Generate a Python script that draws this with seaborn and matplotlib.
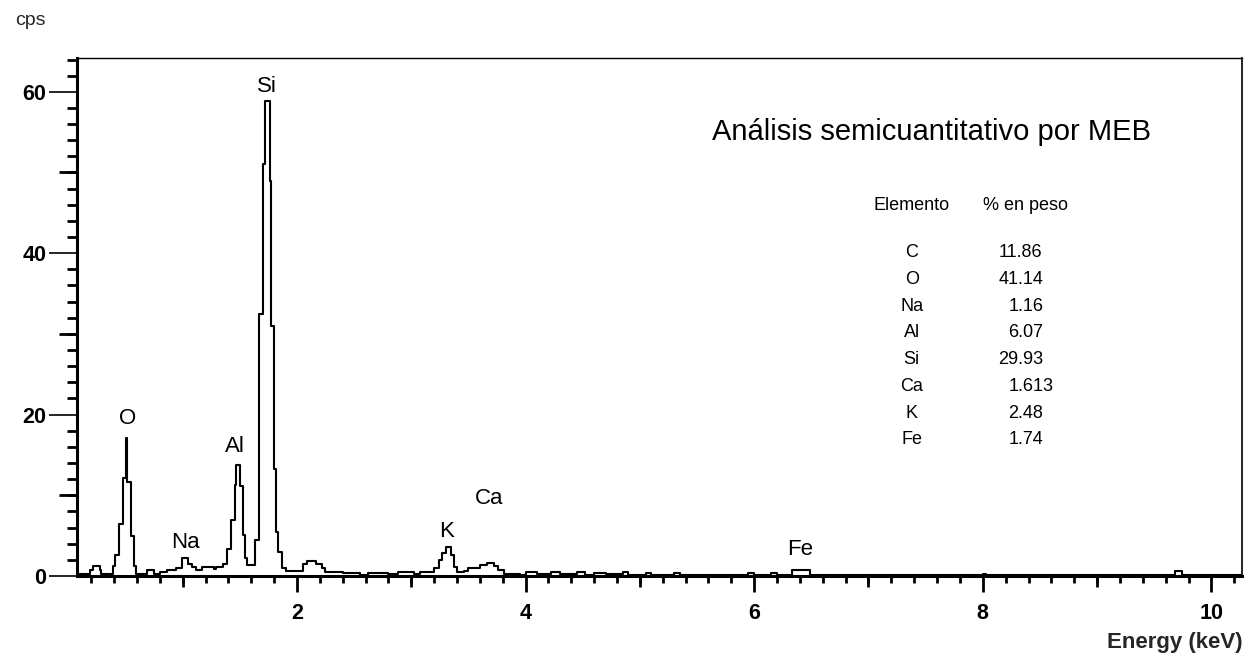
import matplotlib
matplotlib.use("Agg")
import matplotlib.pyplot as plt
import numpy as np
import pandas as pd
import seaborn as sns
from matplotlib.ticker import MultipleLocator

# ---- spectrum data (step starts in keV, counts per second) ----
energy = [0.07, 0.19, 0.215, 0.275, 0.29, 0.39, 0.405, 0.44, 0.475, 0.50, 0.515, 0.55, 0.57, 0.59,
          0.685, 0.745, 0.77, 0.80, 0.86, 0.945, 0.99, 1.05, 1.08, 1.12, 1.165, 1.27, 1.29, 1.355,
          1.385, 1.425, 1.455, 1.47, 1.50, 1.525, 1.545, 1.565, 1.635, 1.67, 1.705, 1.72, 1.76,
          1.77, 1.795, 1.815, 1.835, 1.865, 1.905, 2.055, 2.085, 2.17, 2.215, 2.245, 2.40, 2.55,
          2.62, 2.80, 2.88, 3.02, 3.08, 3.20, 3.24, 3.27, 3.30, 3.35, 3.375, 3.40, 3.46, 3.50,
          3.60, 3.66, 3.72, 3.76, 3.81, 3.95, 4.00, 4.10, 4.22, 4.30, 4.45, 4.52, 4.60, 4.70,
          4.85, 4.90, 5.05, 5.10, 5.30, 5.35, 5.95, 6.00, 6.15, 6.20, 6.33, 6.49, 8.00, 8.03,
          9.68, 9.74, 10.27]
counts = [0.3, 0.7, 1.2, 0.7, 0.3, 1.2, 2.6, 6.5, 12.1, 17.1, 11.7, 5.0, 1.2, 0.3,
          0.7, 0.3, 0.2, 0.5, 0.75, 0.95, 2.2, 1.5, 1.1, 0.75, 1.15, 0.9, 1.15, 1.5,
          3.4, 6.9, 11.3, 13.8, 11.1, 5.1, 2.2, 1.3, 4.5, 32.5, 51.0, 58.8, 49.0,
          31.0, 13.3, 5.5, 3.0, 1.0, 0.6, 1.5, 1.9, 1.5, 0.95, 0.55, 0.35, 0.15,
          0.4, 0.2, 0.45, 0.25, 0.5, 0.95, 2.0, 2.8, 3.55, 2.6, 1.15, 0.55, 0.65, 0.95,
          1.35, 1.65, 1.25, 0.75, 0.3, 0.15, 0.45, 0.2, 0.5, 0.2, 0.45, 0.15, 0.4, 0.2,
          0.45, 0.15, 0.4, 0.15, 0.35, 0.1, 0.35, 0.1, 0.35, 0.1, 0.8, 0.08, 0.3, 0.08,
          0.6, 0.08, 0.08]

# ---- peak labels ----
peak_names = ["O", "Na", "Al", "Si", "K", "Ca", "Fe"]
peak_x = [0.52, 1.02, 1.455, 1.74, 3.31, 3.68, 6.40]
peak_y = [19.5, 4.2, 16.0, 60.7, 5.5, 9.6, 3.3]

# ---- composition table ----
title_text = "Análisis semicuantitativo por MEB"
table_header = ["Elemento", "% en peso"]
table_elements = ["C", "O", "Na", "Al", "Si", "Ca", "K", "Fe"]
table_weights = ["11.86", "41.14", "1.16", "6.07", "29.93", "1.613", "2.48", "1.74"]

x_major_ticks = [2, 4, 6, 8, 10]
x_mid_ticks = [1, 3, 5, 7, 9]
y_major_ticks = [0, 20, 40, 60]
y_mid_ticks = [10, 30, 50]

sns.set_style("ticks", {"axes.edgecolor": "black", "xtick.color": "black",
                        "ytick.color": "black", "text.color": "black"})
plt.rcParams["font.family"] = ["Liberation Sans", "DejaVu Sans"]

df = pd.DataFrame({"energy": energy, "cps": counts})

fig = plt.figure(figsize=(12.45, 6.56), dpi=100)
ax = fig.add_axes([0.0616, 0.1220, 0.9362, 0.7891])

sns.lineplot(data=df, x="energy", y="cps", drawstyle="steps-post", color="black",
             linewidth=1.5, estimator=None, sort=False, ax=ax, legend=False)

ax.set_xlim(0.073, 10.27)
ax.set_ylim(0, 64.15)

ax.set_xticks(x_major_ticks)
ax.set_xticklabels([str(t) for t in x_major_ticks])
ax.xaxis.set_minor_locator(MultipleLocator(0.2))
ax.set_yticks(y_major_ticks)
ax.set_yticklabels([str(t) for t in y_major_ticks])
ax.yaxis.set_minor_locator(MultipleLocator(2))

ax.tick_params(axis="x", which="major", direction="out", length=11.5, width=2,
               pad=8, labelsize=15.5)
ax.tick_params(axis="x", which="minor", direction="out", length=5, width=2)
ax.tick_params(axis="y", which="major", direction="out", length=20, width=1.2,
               pad=2, labelsize=15.5)
ax.tick_params(axis="y", which="minor", direction="out", length=7, width=2)
for lab in ax.get_xticklabels() + ax.get_yticklabels():
    lab.set_fontweight("bold")

secx = ax.secondary_xaxis("bottom")
secx.set_xticks(x_mid_ticks)
secx.tick_params(axis="x", direction="out", length=8, width=2, labelbottom=False)
secx.spines["bottom"].set_visible(False)

secy = ax.secondary_yaxis("left")
secy.set_yticks(y_mid_ticks)
secy.tick_params(axis="y", direction="out", length=13, width=2, labelleft=False)
secy.spines["left"].set_visible(False)

ax.spines["left"].set_linewidth(2.2)
ax.spines["bottom"].set_linewidth(2.2)
ax.spines["top"].set_linewidth(1.0)
ax.spines["right"].set_linewidth(1.2)

ax.set_xlabel("Energy (keV)", loc="right", fontsize=16, fontweight="bold", labelpad=6)
ax.set_ylabel("cps", rotation=0, fontsize=14, ha="center", va="center")
ax.yaxis.set_label_coords(-0.040, 1.074)

for name, px, py in zip(peak_names, peak_x, peak_y):
    ax.text(px, py, name, ha="center", va="center", fontsize=16)

ax.text(0.5448, 0.8582, title_text, transform=ax.transAxes, ha="left",
        va="center", fontsize=21)
ax.text(0.7164, 0.7166, table_header[0], transform=ax.transAxes, ha="center",
        va="center", fontsize=13)
ax.text(0.8143, 0.7166, table_header[1], transform=ax.transAxes, ha="center",
        va="center", fontsize=13)
for i, (el, wt) in enumerate(zip(table_elements, table_weights)):
    yy = 0.6245 - i * 0.05167
    ax.text(0.7164, yy, el, transform=ax.transAxes, ha="center", va="center", fontsize=13)
    xx = 0.7907 if float(wt) >= 10 else 0.7993
    ax.text(xx, yy, wt, transform=ax.transAxes, ha="left", va="center", fontsize=13)

fig.savefig("out.png", dpi=100, facecolor="white")
